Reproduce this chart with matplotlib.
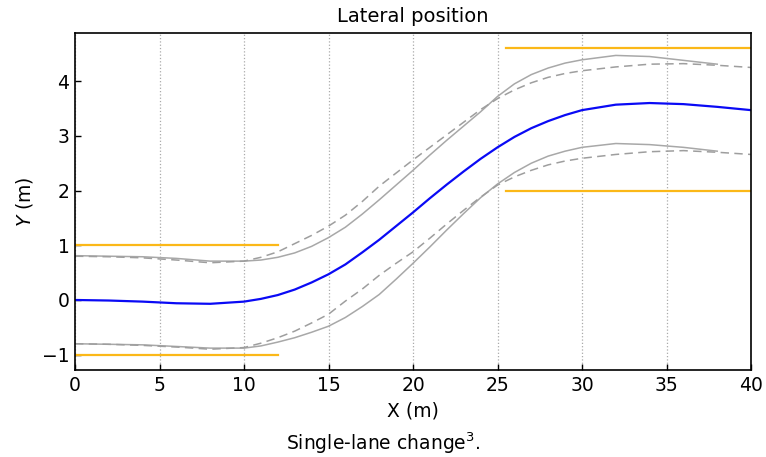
import matplotlib
matplotlib.use("Agg")
import matplotlib.pyplot as plt

plt.rcParams['font.family'] = ['DejaVu Sans']
plt.rcParams['mathtext.fontset'] = 'dejavusans'

# ---- data ----
x = [0, 2, 4, 6, 8, 10, 11, 12, 13, 14, 15, 16, 17, 18, 19, 20, 21, 22, 23, 24, 25,
     26, 27, 28, 29, 30, 32, 34, 36, 38, 40]
center = [0.00, -0.01, -0.03, -0.06, -0.07, -0.03, 0.02, 0.09, 0.19, 0.32, 0.47, 0.65,
          0.87, 1.10, 1.35, 1.60, 1.86, 2.11, 2.35, 2.58, 2.79, 2.98, 3.14, 3.27, 3.38,
          3.47, 3.57, 3.60, 3.58, 3.53, 3.47]
upper_solid = [0.81, 0.80, 0.79, 0.76, 0.71, 0.71, 0.73, 0.78, 0.86, 0.98, 1.14, 1.33,
               1.57, 1.83, 2.10, 2.37, 2.65, 2.92, 3.18, 3.44, 3.72, 3.95, 4.12, 4.24,
               4.33, 4.39, 4.47, 4.45, 4.38, 4.31]
upper_dashed = [0.80, 0.79, 0.77, 0.73, 0.68, 0.71, 0.78, 0.88, 1.03, 1.18, 1.35, 1.55,
                1.80, 2.08, 2.32, 2.56, 2.79, 3.02, 3.25, 3.48, 3.68, 3.84, 3.97, 4.07,
                4.14, 4.19, 4.26, 4.31, 4.32, 4.29, 4.25]
lower_solid = [-0.80, -0.81, -0.82, -0.85, -0.88, -0.88, -0.84, -0.77, -0.69, -0.59,
               -0.48, -0.32, -0.12, 0.10, 0.38, 0.67, 0.97, 1.28, 1.58, 1.87, 2.12, 2.33,
               2.50, 2.63, 2.72, 2.79, 2.86, 2.84, 2.79, 2.72]
lower_dashed = [-0.80, -0.81, -0.83, -0.86, -0.90, -0.87, -0.79, -0.69, -0.57, -0.42,
                -0.26, -0.02, 0.20, 0.45, 0.67, 0.88, 1.13, 1.39, 1.64, 1.88, 2.10, 2.25,
                2.37, 2.47, 2.54, 2.59, 2.66, 2.71, 2.73, 2.70, 2.66]

cone_left_x = [0, 12]
cone_left_hi = [1.0, 1.0]
cone_left_lo = [-1.0, -1.0]
cone_right_x = [25.5, 40]
cone_right_hi = [4.6, 4.6]
cone_right_lo = [2.0, 2.0]

xticks = [0, 5, 10, 15, 20, 25, 30, 35, 40]
yticks = [-1, 0, 1, 2, 3, 4]

# ---- figure ----
fig = plt.figure(figsize=(7.66, 4.57), dpi=100)
ax = fig.add_axes([75/766, 1-370/457, (751-75)/766, (370-33)/457])

orange = '#fbb818'
ax.plot(cone_left_x, cone_left_hi, color=orange, lw=1.6)
ax.plot(cone_left_x, cone_left_lo, color=orange, lw=1.6)
ax.plot(cone_right_x, cone_right_hi, color=orange, lw=1.6)
ax.plot(cone_right_x, cone_right_lo, color=orange, lw=1.6)

gray = '#a8a8a8'
n = len(upper_solid)
ax.plot(x[:n], upper_solid, color=gray, lw=1.1)
ax.plot(x[:n], lower_solid, color=gray, lw=1.1)
ax.plot(x, upper_dashed, color='#9e9e9e', lw=1.1, dashes=(5.5, 3.5))
ax.plot(x, lower_dashed, color='#9e9e9e', lw=1.1, dashes=(5.5, 3.5))
ax.plot(x, center, color='#0a0af5', lw=1.6)

ax.set_xlim(0, 40)
ax.set_ylim(-1.28, 4.88)
ax.set_xticks(xticks)
ax.set_yticks(yticks)
ax.grid(axis='x', linestyle=':', color='#aaaaaa', lw=0.9)
ax.tick_params(direction='in', length=4.5, width=1, labelsize=13.5, top=False, right=False, pad=4)
for s in ax.spines.values():
    s.set_linewidth(1.2)

ax.set_title('Lateral position', fontsize=14, pad=8)
ax.set_xlabel('X (m)', fontsize=13.5, labelpad=5)
ax.set_ylabel('$Y$ (m)', fontsize=13.5, labelpad=5)
fig.text(0.5, 1-443/457, 'Single-lane change$^{3}$.', ha='center', va='center', fontsize=13.5)

fig.savefig('out.png', dpi=100)
